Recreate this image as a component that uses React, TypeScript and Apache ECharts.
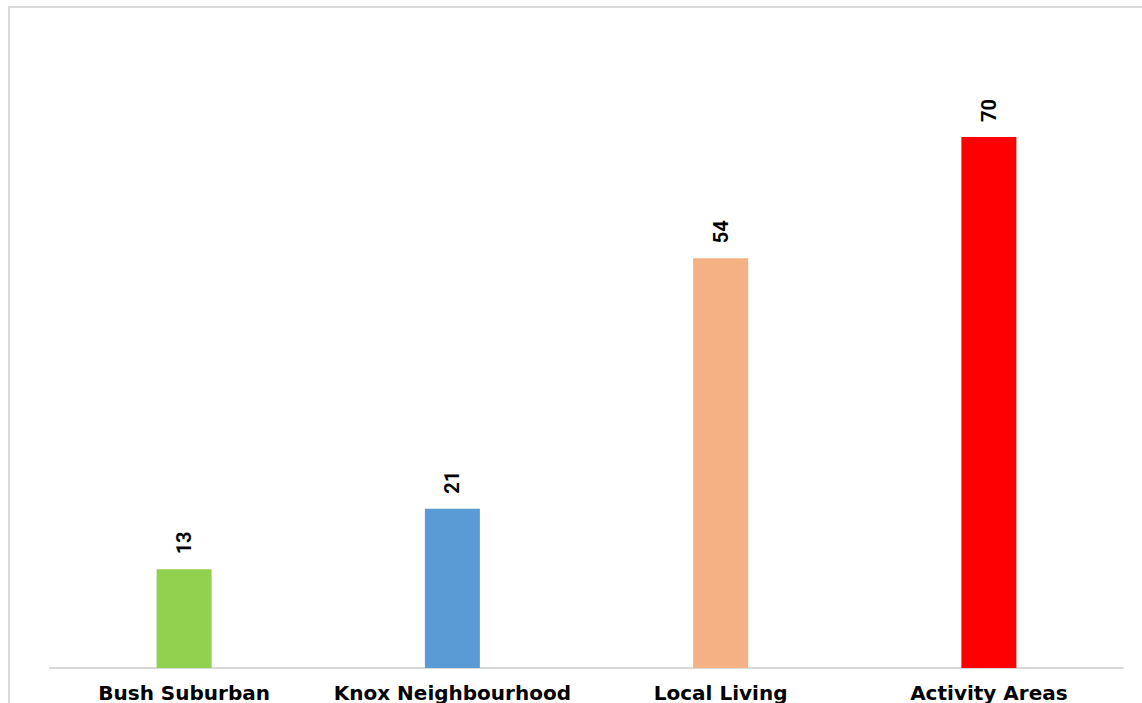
import React, { useEffect, useRef } from "react";
import * as echarts from "echarts";

const categories = ["Bush Suburban", "Knox Neighbourhood", "Local Living", "Activity Areas"];
const values = [13, 21, 54, 70];
const barColors = ["#92d050", "#5b9bd5", "#f4b183", "#ff0000"];

export default function App() {
  const ref = useRef<HTMLDivElement>(null);

  useEffect(() => {
    if (!ref.current) return;
    const chart = echarts.init(ref.current, null, { renderer: "svg" });
    chart.setOption({
      animation: false,
      backgroundColor: "#ffffff",
      graphic: [
        {
          type: "rect",
          shape: { x: 9, y: 7, width: 1300, height: 900 },
          style: { fill: "none", stroke: "#d9d9d9", lineWidth: 2 },
          silent: true,
        },
      ],
      grid: { left: 50, right: 19, top: 61, bottom: 35, containLabel: false },
      xAxis: {
        type: "category",
        data: categories,
        axisLine: { show: true, lineStyle: { color: "#d9d9d9", width: 2 } },
        axisTick: { show: false },
        axisLabel: {
          interval: 0,
          margin: 15,
          color: "#000000",
          fontFamily: "DejaVu Sans",
          fontWeight: "bold",
          fontSize: 20,
        },
      },
      yAxis: {
        type: "value",
        min: 0,
        max: 80,
        show: false,
        splitLine: { show: false },
      },
      series: [
        {
          type: "bar",
          barWidth: 55,
          data: values.map((v, i) => ({ value: v, itemStyle: { color: barColors[i] } })),
          label: {
            show: true,
            position: "top",
            rotate: 90,
            align: "left",
            verticalAlign: "middle",
            distance: 15,
            color: "#000000",
            fontFamily: "Roboto",
            fontWeight: "bold",
            fontSize: 20,
          },
        },
      ],
    });
    return () => chart.dispose();
  }, []);

  return (
    <div
      ref={ref}
      style={{ position: "fixed", left: 0, top: 0, width: 1142, height: 703 }}
    />
  );
}
